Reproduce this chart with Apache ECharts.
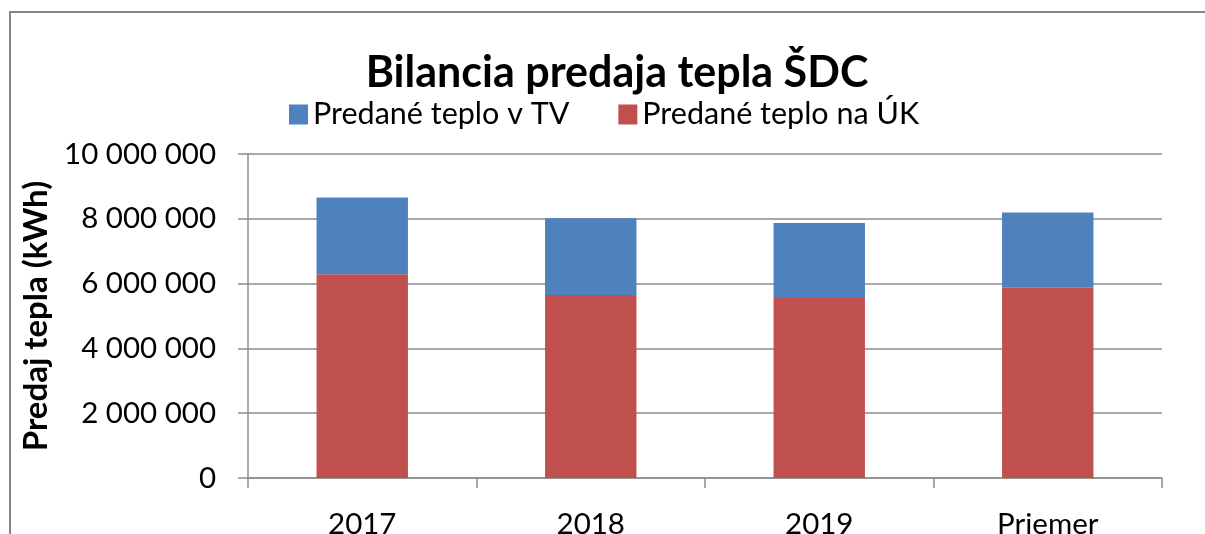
<!DOCTYPE html>
<html>
<head>
    <meta charset="utf-8">
    <title>Bilancia predaja tepla ŠDC</title>
    <script src="https://cdn.jsdelivr.net/npm/echarts@6/dist/echarts.min.js"></script>
    <style>
        html, body { margin: 0; padding: 0; background: #fff; }
    </style>
</head>
<body>
    <div id="main" style="width: 1205px;height:534px;"></div>
    <script type="text/javascript">
        var roky = ['2017', '2018', '2019', 'Priemer'];
        // hodnoty v kWh, odčítané z grafu
        var teploTV = [2372000, 2372000, 2319000, 2323000];
        var teploUK = [6285000, 5647000, 5555000, 5872000];
        var osY = [0, 2000000, 4000000, 6000000, 8000000, 10000000];

        var font = 'Lato';

        function medzery(v) {
            return String(v).replace(/\B(?=(\d{3})+(?!\d))/g, ' ');
        }

        var myChart = echarts.init(document.getElementById('main'));

        var option = {
            animation: false,
            title: {
                text: 'Bilancia predaja tepla ŠDC',
                left: 612,
                textAlign: 'center',
                top: 47,
                textStyle: {
                    fontFamily: font,
                    fontWeight: 'bold',
                    fontSize: 43,
                    color: '#000'
                }
            },
            legend: {
                data: ['Predané teplo v TV', 'Predané teplo na ÚK'],
                left: 284,
                top: 94,
                itemWidth: 19,
                itemHeight: 20,
                itemGap: 49,
                icon: 'rect',
                textStyle: {
                    fontFamily: font,
                    fontSize: 30.5,
                    color: '#000'
                }
            },
            graphic: [{
                type: 'rect',
                shape: { x: 10, y: 12, width: 1300, height: 700 },
                style: { fill: 'none', stroke: '#868686', lineWidth: 2 },
                silent: true
            }],
            grid: {
                left: 248,
                right: 43,
                top: 154,
                bottom: 56,
                containLabel: false,
                outerBoundsMode: 'none'
            },
            xAxis: {
                type: 'category',
                data: roky,
                axisLine: { lineStyle: { color: '#8c8c8c', width: 1.5 } },
                axisTick: { show: true, length: 10, lineStyle: { color: '#8c8c8c', width: 1.5 } },
                axisLabel: {
                    margin: 31,
                    fontFamily: font,
                    fontSize: 29.5,
                    color: '#000'
                }
            },
            yAxis: {
                type: 'value',
                min: osY[0],
                max: osY[osY.length - 1],
                interval: osY[1] - osY[0],
                name: 'Predaj tepla (kWh)',
                nameLocation: 'middle',
                nameGap: 189,
                nameTextStyle: {
                    fontFamily: font,
                    fontWeight: 'bold',
                    fontSize: 33,
                    color: '#000'
                },
                axisLine: { show: true, lineStyle: { color: '#8c8c8c', width: 1.5 } },
                axisTick: { show: true, length: 10, lineStyle: { color: '#8c8c8c', width: 1.5 } },
                splitLine: { lineStyle: { color: '#8c8c8c', width: 1.5 } },
                axisLabel: {
                    margin: 32,
                    fontFamily: font,
                    fontSize: 29.5,
                    color: '#000',
                    formatter: medzery
                }
            },
            series: [{
                name: 'Predané teplo na ÚK',
                type: 'bar',
                stack: 'teplo',
                barWidth: '40%',
                itemStyle: { color: '#C0504D' },
                data: teploUK
            }, {
                name: 'Predané teplo v TV',
                type: 'bar',
                stack: 'teplo',
                barWidth: '40%',
                itemStyle: { color: '#4F81BD' },
                data: teploTV
            }]
        };

        myChart.setOption(option);
    </script>
</body>
</html>
